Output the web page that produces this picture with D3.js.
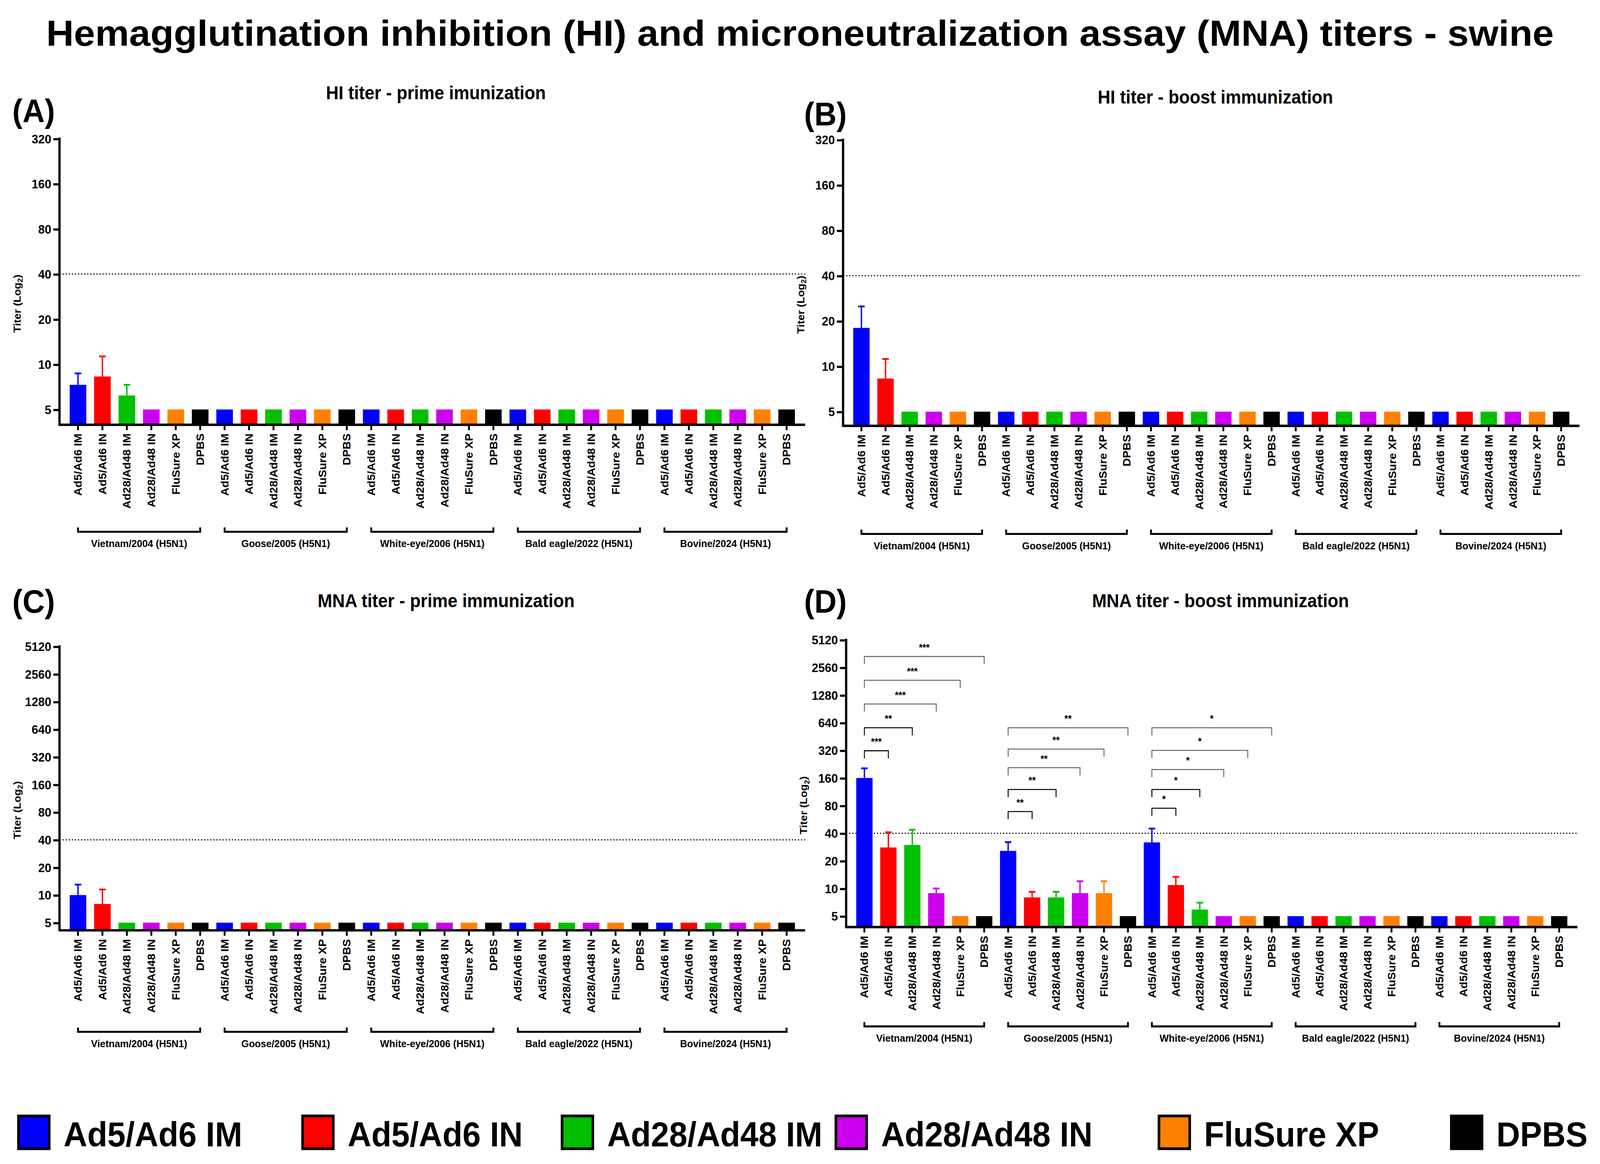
<!DOCTYPE html>
<html><head><meta charset="utf-8">
<script src="https://cdn.jsdelivr.net/npm/d3@7"></script>
<style>html,body{margin:0;padding:0;background:#fff;overflow:hidden;width:100%;height:100%}svg{display:block}text{font-family:"Liberation Sans",Arial,sans-serif;font-weight:bold}</style>
</head><body>
<script>
const groups = ["Vietnam/2004 (H5N1)","Goose/2005 (H5N1)","White-eye/2006 (H5N1)","Bald eagle/2022 (H5N1)","Bovine/2024 (H5N1)"];
const treatments = ["Ad5/Ad6 IM","Ad5/Ad6 IN","Ad28/Ad48 IM","Ad28/Ad48 IN","FluSure XP","DPBS"];
const colors = ["#0000ff","#ff0000","#00c000","#cc00ee","#ff8000","#000000"];
const hiTicks = [5,10,20,40,80,160,320];
const mnaTicks = [5,10,20,40,80,160,320,640,1280,2560,5120];
// mean values per group (rows) x treatment (cols), and upper error values
const hiPrimeMean = [[7.3,8.3,6.2,5,5,5],[5,5,5,5,5,5],[5,5,5,5,5,5],[5,5,5,5,5,5],[5,5,5,5,5,5]];
const hiPrimeErr  = [[8.7,11.3,7.3,5,5,5],[5,5,5,5,5,5],[5,5,5,5,5,5],[5,5,5,5,5,5],[5,5,5,5,5,5]];
const hiBoostMean = [[18,8.3,5,5,5,5],[5,5,5,5,5,5],[5,5,5,5,5,5],[5,5,5,5,5,5],[5,5,5,5,5,5]];
const hiBoostErr  = [[25,11.2,5,5,5,5],[5,5,5,5,5,5],[5,5,5,5,5,5],[5,5,5,5,5,5],[5,5,5,5,5,5]];
const mnaPrimeMean = [[10,8,5,5,5,5],[5,5,5,5,5,5],[5,5,5,5,5,5],[5,5,5,5,5,5],[5,5,5,5,5,5]];
const mnaPrimeErr  = [[13,11.5,5,5,5,5],[5,5,5,5,5,5],[5,5,5,5,5,5],[5,5,5,5,5,5],[5,5,5,5,5,5]];
const mnaBoostMean = [[160,28,29.8,8.9,5,5],[25.7,8,8,8.9,8.9,5],[31.8,10.9,5.9,5,5,5],[5,5,5,5,5,5],[5,5,5,5,5,5]];
const mnaBoostErr  = [[204,41,43.7,10,5,5],[32,9.2,9.2,12,12,5],[45,13.4,7,5,5,5],[5,5,5,5,5,5],[5,5,5,5,5,5]];
// significance brackets in panel D: [group, target treatment, level value, label]
const sigGroup  = [0,0,0,0,0, 1,1,1,1,1, 2,2,2,2,2];
const sigTarget = [1,2,3,4,5, 1,2,3,4,5, 1,2,3,4,5];
const sigLevel  = [317,565,1025,1860,3375, 69,120,207,331,565, 75,120,198,320,565];
const sigLabel  = ["***","**","***","***","***","**","**","**","**","**","*","*","*","*","*"];

const svg = d3.select("body").append("svg").attr("width","100%").attr("height","100%")
  .attr("viewBox","0 0 1560 1066").attr("preserveAspectRatio","none");
svg.append("text").attr("x",780).attr("y",42).attr("text-anchor","middle").attr("font-size",33).attr("textLength",1470).attr("lengthAdjust","spacingAndGlyphs")
  .text("Hemagglutination inhibition (HI) and microneutralization assay (MNA) titers - swine");

const panels = [
 {lab:"(A)",lx:12,ly:112,title:"HI titer - prime imunization",tx:425,ty:91,mean:hiPrimeMean,err:hiPrimeErr,ticks:hiTicks,yTop:127,y5:375,bot:389,x0:58,x1:785,by:487},
 {lab:"(B)",lx:784,ly:115,title:"HI titer - boost immunization",tx:1185,ty:95,mean:hiBoostMean,err:hiBoostErr,ticks:hiTicks,yTop:128,y5:377,bot:390,x0:822,x1:1540,by:489},
 {lab:"(C)",lx:12,ly:561,title:"MNA titer - prime immunization",tx:435,ty:556,mean:mnaPrimeMean,err:mnaPrimeErr,ticks:mnaTicks,yTop:592,y5:845,bot:852,x0:58,x1:785,by:945},
 {lab:"(D)",lx:784,ly:561,title:"MNA titer - boost immunization",tx:1190,ty:556,mean:mnaBoostMean,err:mnaBoostErr,ticks:mnaTicks,yTop:586,y5:839,bot:849,x0:825,x1:1538,by:940,sig:true}
];

panels.forEach(p=>{
  const g = svg.append("g");
  g.append("text").attr("x",p.lx).attr("y",p.ly).attr("font-size",30).text(p.lab);
  g.append("text").attr("x",p.tx).attr("y",p.ty).attr("text-anchor","middle").attr("font-size",17).text(p.title);
  const keys=[]; groups.forEach((gr,gi)=>treatments.forEach((t,ti)=>keys.push(gi+"_"+ti)));
  const x = d3.scaleBand().domain(keys).range([p.x0+4,p.x1-4]).paddingInner(0.32).paddingOuter(0.25);
  const y = d3.scaleLog().base(2).domain([5,p.ticks[p.ticks.length-1]]).range([p.y5,p.yTop]);
  const bars=[]; groups.forEach((gr,gi)=>treatments.forEach((t,ti)=>bars.push({k:gi+"_"+ti,gi,ti,v:p.mean[gi][ti],e:p.err[gi][ti]})));
  g.append("line").attr("x1",p.x0).attr("x2",p.x1).attr("y1",y(40)).attr("y2",y(40)).attr("stroke","#000").attr("stroke-width",1).attr("stroke-dasharray","1.2,1.8");
  bars.filter(d=>d.e>d.v).forEach(d=>{
    const cx=x(d.k)+x.bandwidth()/2;
    g.append("line").attr("x1",cx).attr("x2",cx).attr("y1",y(d.v)).attr("y2",y(d.e)).attr("stroke",colors[d.ti]).attr("stroke-width",1.3);
    g.append("line").attr("x1",cx-x.bandwidth()*0.2).attr("x2",cx+x.bandwidth()*0.2).attr("y1",y(d.e)).attr("y2",y(d.e)).attr("stroke",colors[d.ti]).attr("stroke-width",1.6);
  });
  g.selectAll("rect.b").data(bars).join("rect").attr("x",d=>x(d.k)).attr("width",x.bandwidth())
    .attr("y",d=>y(d.v)).attr("height",d=>p.bot-y(d.v)).attr("fill",d=>colors[d.ti]);
  const ya = g.append("g").attr("transform",`translate(${p.x0},0)`).call(d3.axisLeft(y).tickValues(p.ticks).tickFormat(d3.format("d")).tickSize(6).tickPadding(2));
  ya.select(".domain").remove();
  ya.selectAll("line").attr("stroke-width",2);
  ya.selectAll("text").attr("font-size",11.5).attr("font-family","Liberation Sans, Arial").attr("font-weight","bold");
  g.append("line").attr("x1",p.x0).attr("x2",p.x0).attr("y1",p.yTop-1).attr("y2",p.bot+1).attr("stroke","#000").attr("stroke-width",2.2);
  g.append("text").attr("transform",`translate(${p.x0-38},${(p.yTop+p.bot)/2+20}) rotate(-90)`).attr("text-anchor","middle").attr("font-size",10)
    .html('Titer (Log<tspan font-size="7" dy="2">2</tspan><tspan dy="-2">)</tspan>');
  const xa = g.append("g").attr("transform",`translate(0,${p.bot})`).call(d3.axisBottom(x).tickSize(5).tickFormat(k=>treatments[+k.split("_")[1]]));
  xa.select(".domain").attr("d",`M${p.x0},0H${p.x1}`).attr("stroke-width",2.2);
  xa.selectAll("line").attr("stroke-width",1.8);
  xa.selectAll("text").attr("transform","rotate(-90)").attr("text-anchor","end").attr("x",-8).attr("y",0).attr("dy","0.35em")
    .attr("font-size",10.5).attr("font-weight","normal").attr("font-family","Liberation Sans, Arial");
  groups.forEach((gr,gi)=>{
    const a=x(gi+"_0")+x.bandwidth()/2, b=x(gi+"_5")+x.bandwidth()/2;
    g.append("path").attr("d",`M${a},${p.by-4}V${p.by}H${b}V${p.by-4}`).attr("fill","none").attr("stroke","#000").attr("stroke-width",1.8);
    g.append("text").attr("x",(a+b)/2).attr("y",p.by+14).attr("text-anchor","middle").attr("font-size",9.5).text(gr);
  });
  if(p.sig){
    sigGroup.forEach((gi,i)=>{
      const a=x(gi+"_0")+x.bandwidth()/2, b=x(gi+"_"+sigTarget[i])+x.bandwidth()/2, ly=y(sigLevel[i]);
      g.append("path").attr("d",`M${a},${ly+7}V${ly}H${b}V${ly+7}`).attr("fill","none").attr("stroke",sigTarget[i]>2?"#666":"#000").attr("stroke-width",0.9);
      g.append("text").attr("x",(a+b)/2).attr("y",ly-5).attr("text-anchor","middle").attr("font-size",9).text(sigLabel[i]);
    });
  }
});

const legX=[18,295,548,815,1130,1415];
treatments.forEach((t,i)=>{
  svg.append("rect").attr("x",legX[i]).attr("y",1022).attr("width",30).attr("height",30).attr("fill",colors[i]).attr("stroke","#000").attr("stroke-width",2.5);
  svg.append("text").attr("x",legX[i]+44).attr("y",1050).attr("font-size",32).text(t);
});
</script>
</body></html>
